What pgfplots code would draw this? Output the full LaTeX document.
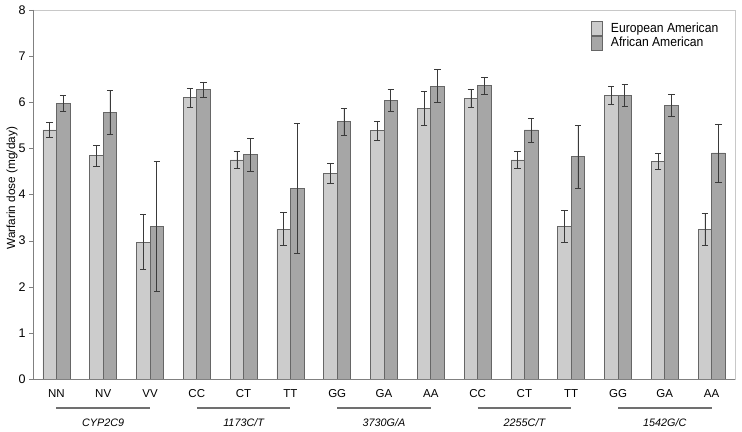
\documentclass[border=0pt]{standalone}
\usepackage{fontspec}
\setmainfont{Liberation Sans}
\newfontfamily\legfont[FakeStretch=0.92]{Liberation Sans}
\usepackage{pgfplots}
\usepackage{pgfplotstable}
\pgfplotsset{compat=1.18}
\definecolor{lightbar}{HTML}{CCCCCC}
\definecolor{darkbar}{HTML}{A6A6A6}
\definecolor{barline}{HTML}{666666}
\definecolor{errcol}{HTML}{3A3A3A}
\definecolor{grpline}{HTML}{707070}
\definecolor{frameline}{HTML}{C8C8C8}
\definecolor{axline}{HTML}{808080}

\pgfplotstableread{
x  val   err
0  5.40  0.17
1  4.84  0.23
2  2.97  0.60
3  6.10  0.20
4  4.75  0.18
5  3.25  0.36
6  4.46  0.21
7  5.38  0.20
8  5.87  0.36
9  6.09  0.20
10 4.75  0.18
11 3.31  0.35
12 6.15  0.20
13 4.72  0.17
14 3.25  0.35
}\eurdata

\pgfplotstableread{
x  val   err
0  5.98  0.17
1  5.78  0.48
2  3.31  1.41
3  6.27  0.17
4  4.86  0.35
5  4.13  1.41
6  5.58  0.29
7  6.04  0.23
8  6.35  0.36
9  6.36  0.19
10 5.40  0.26
11 4.82  0.68
12 6.15  0.23
13 5.94  0.24
14 4.90  0.63
}\afrdata

\begin{document}
\begin{tikzpicture}
\begin{axis}[
  scale only axis,
  width=702pt, height=369pt,
  xmin=-0.5, xmax=14.5,
  ymin=0, ymax=8,
  ybar=0pt,
  bar width=13.5pt,
  clip=false,
  xtick={0,...,14},
  xticklabels={NN,NV,VV,CC,CT,TT,GG,GA,AA,CC,CT,TT,GG,GA,AA},
  x tick label style={font=\fontsize{11.5}{13}\selectfont, yshift=-3pt},
  extra x ticks={0.5,1.5,2.5,3.5,4.5,5.5,6.5,7.5,8.5,9.5,10.5,11.5,12.5,13.5,14.5},
  extra x tick labels={},
  extra x tick style={major tick length=4pt, tick align=outside, tick style={color=axline}},
  ytick={0,1,2,3,4,5,6,7,8},
  y tick label style={font=\fontsize{12.5}{14}\selectfont},
  /pgf/number format/assume math mode=true,
  xtick pos=bottom, ytick pos=left,
  tick align=outside,
  x tick style={draw=none},
  y tick style={color=axline},
  major tick length=4pt,
  axis line style={draw=frameline},
  ylabel={Warfarin dose (mg/day)},
  every axis y label/.style={at={(rel axis cs:0,0.517)}, xshift=-21pt, rotate=90, anchor=center, font=\fontsize{11.8}{14}\selectfont},
  legend style={at={(rel axis cs:0.795,0.97)}, anchor=north west, draw=none, fill=none,
    font=\legfont\fontsize{13.2}{15}\selectfont, row sep=-1pt, inner sep=0pt},
  legend cell align=left,
  legend image code/.code={\draw[#1] (0pt,-7pt) rectangle (11pt,7pt); \path (17pt,0pt);},
  error bars/y dir=both,
  error bars/y explicit,
  error bars/error bar style={color=errcol, line width=0.6pt},
  error bars/error mark options={rotate=90, mark size=3.2pt, color=errcol, line width=0.6pt},
]
\addplot[fill=lightbar, draw=barline, line width=0.7pt] table[x=x, y=val, y error=err] {\eurdata};
\addlegendentry{European American}
\addplot[fill=darkbar, draw=barline, line width=0.7pt] table[x=x, y=val, y error=err] {\afrdata};
\addlegendentry{African American}

\draw[axline, line width=0.8pt] (rel axis cs:0,1) -- (rel axis cs:0,0) -- (rel axis cs:1,0);

\draw[grpline, line width=1.3pt] ([yshift=-29pt]axis cs:0,0) -- ([yshift=-29pt]axis cs:2,0);
\draw[grpline, line width=1.3pt] ([yshift=-29pt]axis cs:3,0) -- ([yshift=-29pt]axis cs:5,0);
\draw[grpline, line width=1.3pt] ([yshift=-29pt]axis cs:6,0) -- ([yshift=-29pt]axis cs:8,0);
\draw[grpline, line width=1.3pt] ([yshift=-29pt]axis cs:9,0) -- ([yshift=-29pt]axis cs:11,0);
\draw[grpline, line width=1.3pt] ([yshift=-29pt]axis cs:12,0) -- ([yshift=-29pt]axis cs:14,0);
\node[font=\fontsize{10.8}{12}\selectfont\itshape] at ([yshift=-44pt]axis cs:1,0) {CYP2C9};
\node[font=\fontsize{10.8}{12}\selectfont\itshape] at ([yshift=-44pt]axis cs:4,0) {1173C/T};
\node[font=\fontsize{10.8}{12}\selectfont\itshape] at ([yshift=-44pt]axis cs:7,0) {3730G/A};
\node[font=\fontsize{10.8}{12}\selectfont\itshape] at ([yshift=-44pt]axis cs:10,0) {2255C/T};
\node[font=\fontsize{10.8}{12}\selectfont\itshape] at ([yshift=-44pt]axis cs:13,0) {1542G/C};
\coordinate (sw) at (rel axis cs:0,0);
\coordinate (ne) at (rel axis cs:1,1);
\end{axis}
\pgfresetboundingbox
\path ([shift={(-33pt,-53pt)}]sw) rectangle ([shift={(7pt,10pt)}]ne);
\end{tikzpicture}
\end{document}
